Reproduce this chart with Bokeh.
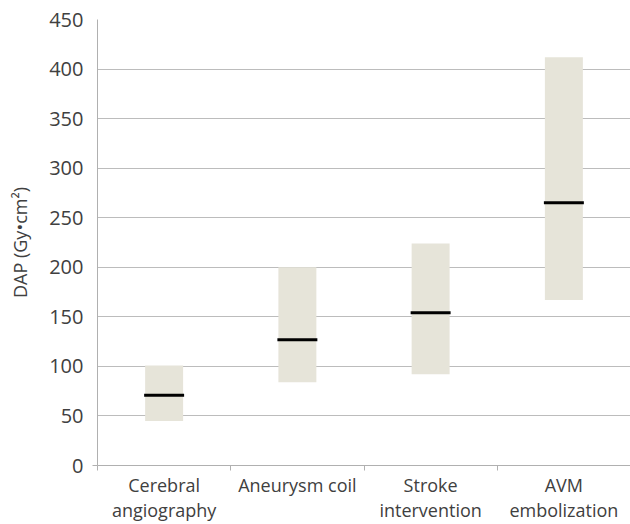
from bokeh.plotting import figure
from bokeh.models import FixedTicker, ColumnDataSource, Range1d
from bokeh.embed import file_html
from bokeh.resources import INLINE

categories = ["Cerebral\nangiography", "Aneurysm coil", "Stroke\nintervention", "AVM\nembolization"]
low = [45, 84, 92, 167]
high = [101, 200, 224, 412]
median = [71, 127, 154, 265]
y_ticks = [0, 50, 100, 150, 200, 250, 300, 350, 400, 450]

pos = [i + 0.5 for i in range(len(categories))]
box_w = 0.285
med_half = 0.15

src = ColumnDataSource(dict(
    x=pos, low=low, high=high, med=median,
    mx0=[x - med_half for x in pos], mx1=[x + med_half for x in pos],
))

p = figure(width=630, height=524, output_backend="svg", toolbar_location=None,
           x_range=Range1d(0, len(categories)), y_range=Range1d(0, 450),
           min_border_left=97, min_border_right=0, min_border_top=19, min_border_bottom=40)
p.outline_line_color = None
p.background_fill_color = "white"

p.vbar(x="x", bottom="low", top="high", width=box_w, source=src,
       fill_color="#e6e4d9", line_color=None)
p.segment(x0="mx0", y0="med", x1="mx1", y1="med", source=src,
          line_color="black", line_width=3, line_cap="butt")

font = "Open Sans"
txt = "#404040"
axis_col = "#b0b0b0"

p.xgrid.grid_line_color = None
p.ygrid.grid_line_color = "#bcbcbc"
p.ygrid.grid_line_width = 1
p.yaxis.ticker = FixedTicker(ticks=y_ticks, minor_ticks=[0])
p.yaxis.major_tick_line_color = None
p.yaxis.major_tick_out = 0
p.yaxis.minor_tick_line_color = axis_col
p.yaxis.minor_tick_out = 5
p.yaxis.minor_tick_in = 0
p.yaxis.axis_line_color = axis_col
p.yaxis.major_label_text_font = font
p.yaxis.major_label_text_font_size = "20px"
p.yaxis.major_label_text_color = txt
p.yaxis.major_label_standoff = 9
p.yaxis.axis_label = "DAP (Gy•cm²)"
p.yaxis.axis_label_text_font = font
p.yaxis.axis_label_text_font_size = "18px"
p.yaxis.axis_label_text_font_style = "normal"
p.yaxis.axis_label_text_color = txt
p.yaxis.axis_label_standoff = 14

p.xaxis.ticker = FixedTicker(ticks=pos, minor_ticks=list(range(len(categories) + 1)))
p.xaxis.major_label_overrides = {x: c for x, c in zip(pos, categories)}
p.xaxis.major_tick_line_color = None
p.xaxis.major_tick_out = 0
p.xaxis.minor_tick_line_color = axis_col
p.xaxis.minor_tick_out = 5
p.xaxis.minor_tick_in = 0
p.xaxis.axis_line_color = axis_col
p.xaxis.major_label_text_font = font
p.xaxis.major_label_text_font_size = "18px"
p.xaxis.major_label_text_line_height = 1.05
p.xaxis.major_label_text_color = txt
p.xaxis.major_label_standoff = 2

open("out.html", "w").write(file_html(p, INLINE))
